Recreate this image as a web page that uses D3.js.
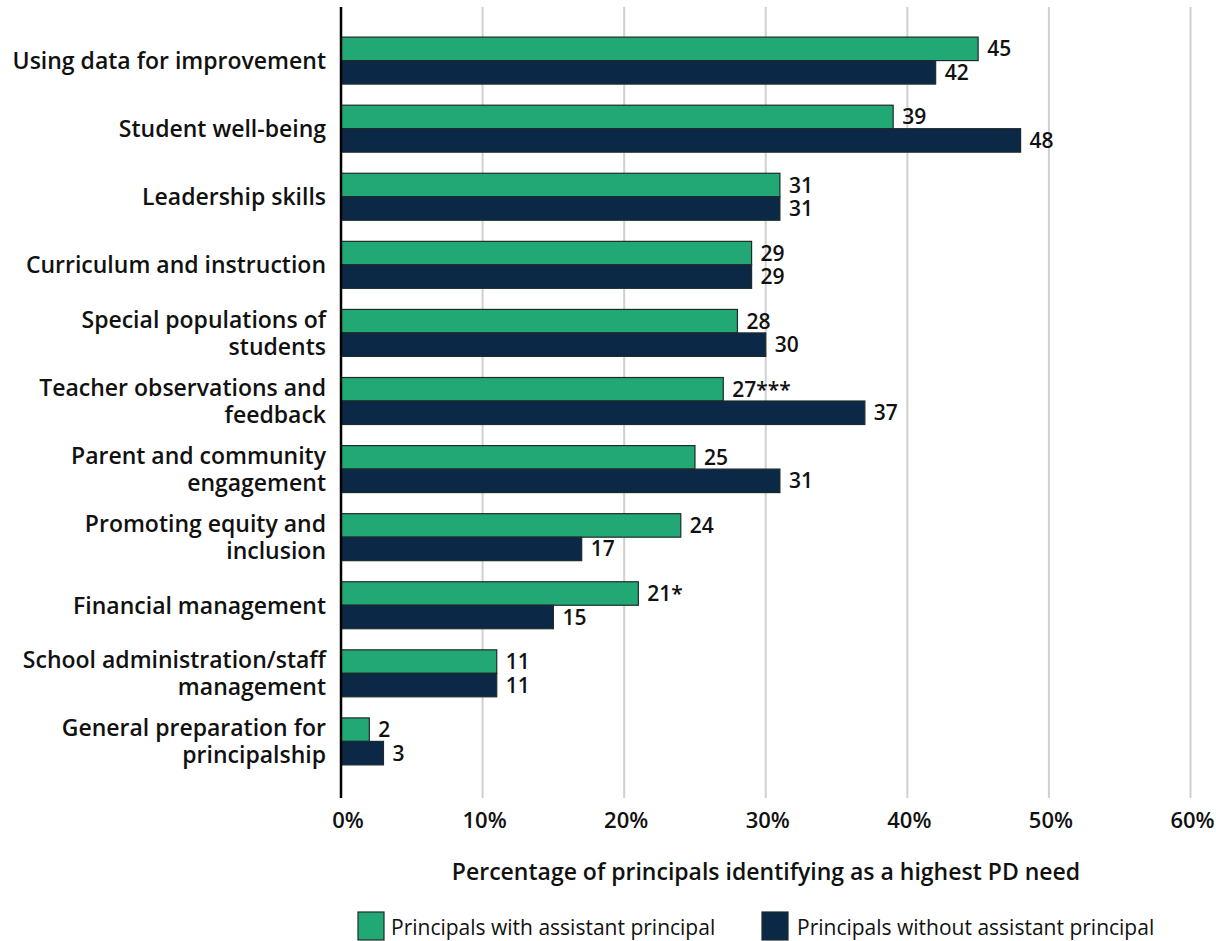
<!DOCTYPE html>
<html>
<head>
<meta charset="utf-8">
<script src="https://cdn.jsdelivr.net/npm/d3@7"></script>
<style>
  body { margin: 0; background: #fff; }
  svg text { font-family: "Open Sans", "Noto Sans", sans-serif; fill: #111; }
</style>
</head>
<body>
<div id="chart"></div>
<script>
'use strict';

// categories (each entry is the label's lines)
const categories = [
    ['Using data for improvement'],
    ['Student well-being'],
    ['Leadership skills'],
    ['Curriculum and instruction'],
    ['Special populations of', 'students'],
    ['Teacher observations and', 'feedback'],
    ['Parent and community', 'engagement'],
    ['Promoting equity and', 'inclusion'],
    ['Financial management'],
    ['School administration/staff', 'management'],
    ['General preparation for', 'principalship']
];
const withAP    = [45, 39, 31, 29, 28, 27, 25, 24, 21, 11, 2];
const withoutAP = [42, 48, 31, 29, 30, 37, 31, 17, 15, 11, 3];
const withAPLabels    = ['45', '39', '31', '29', '28', '27***', '25', '24', '21*', '11', '2'];
const withoutAPLabels = ['42', '48', '31', '29', '30', '37', '31', '17', '15', '11', '3'];
const seriesNames = ['Principals with assistant principal', 'Principals without assistant principal'];
const xTicks = [0, 10, 20, 30, 40, 50, 60];

const W = 1216, H = 941;
const colors = ['#22a874', '#0b2946'];

const svg = d3.select('#chart').append('svg')
    .attr('width', W).attr('height', H);

const x = d3.scaleLinear([0, 60], [341, 1190.5]);
const y = d3.scaleBand(d3.range(categories.length), [16, 786]).padding(0.31);
const plotTop = 7, plotBottom = 798;

// gridlines
svg.append('g').selectAll('line')
    .data(xTicks.filter(d => d > 0))
    .join('line')
    .attr('x1', d => x(d)).attr('x2', d => x(d))
    .attr('y1', plotTop).attr('y2', plotBottom)
    .attr('stroke', '#d0d0d0').attr('stroke-width', 2);

// tick labels
svg.append('g').selectAll('text')
    .data(xTicks)
    .join('text')
    .attr('x', d => x(d) + (d === 0 ? 7 : 2))
    .attr('y', 828)
    .attr('text-anchor', 'middle')
    .attr('font-size', 22).attr('font-weight', 600)
    .text(d => d + '%');

// bars
const half = y.bandwidth() / 2;
const series = [
    { vals: withAP, labels: withAPLabels, off: 0 },
    { vals: withoutAP, labels: withoutAPLabels, off: half }
];
series.forEach((s, si) => {
    const g = svg.append('g');
    g.selectAll('rect')
        .data(s.vals)
        .join('rect')
        .attr('x', x(0))
        .attr('y', (d, i) => y(i) + s.off)
        .attr('width', d => x(d) - x(0))
        .attr('height', half)
        .attr('fill', colors[si])
        .attr('stroke', '#1d2b2a').attr('stroke-width', 1.2);
    g.selectAll('text')
        .data(s.vals)
        .join('text')
        .attr('x', d => x(d) + 9)
        .attr('y', (d, i) => y(i) + s.off + half / 2)
        .attr('dy', '0.36em')
        .attr('font-size', 21).attr('font-weight', 600)
        .text((d, i) => s.labels[i]);
});

// y axis line
svg.append('line')
    .attr('x1', x(0)).attr('x2', x(0))
    .attr('y1', plotTop).attr('y2', plotBottom)
    .attr('stroke', '#000').attr('stroke-width', 2.5);

// category labels
const lineH = 27;
svg.append('g').selectAll('text')
    .data(categories)
    .join('text')
    .attr('text-anchor', 'end')
    .attr('font-size', 23).attr('font-weight', 600)
    .each(function (lines, i) {
        const cy = y(i) + y.bandwidth() / 2;
        const y0 = cy - (lines.length - 1) * lineH / 2;
        d3.select(this).selectAll('tspan')
            .data(lines)
            .join('tspan')
            .attr('x', 326)
            .attr('y', (l, j) => y0 + j * lineH)
            .attr('dy', '0.36em')
            .text(l => l);
    });

// axis title
svg.append('text')
    .attr('x', 766).attr('y', 880)
    .attr('text-anchor', 'middle')
    .attr('font-size', 23).attr('font-weight', 600)
    .text('Percentage of principals identifying as a highest PD need');

// legend
const legendX = [358, 762];
const legend = svg.append('g');
seriesNames.forEach((name, i) => {
    legend.append('rect')
        .attr('x', legendX[i]).attr('y', 912)
        .attr('width', 26).attr('height', 28)
        .attr('fill', colors[i])
        .attr('stroke', '#1d2b2a').attr('stroke-width', 1.2);
    legend.append('text')
        .attr('x', legendX[i] + (i === 0 ? 33 : 35))
        .attr('y', 927).attr('dy', '0.36em')
        .attr('font-size', 21)
        .text(name);
});
</script>
</body>
</html>
